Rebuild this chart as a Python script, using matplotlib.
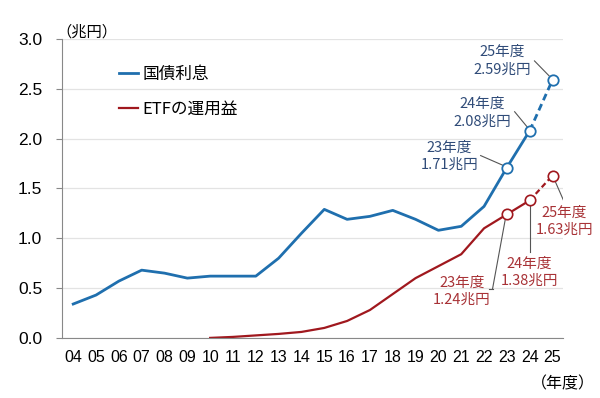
import numpy as np
import matplotlib.pyplot as plt

plt.rcParams['font.family'] = ['Noto Sans CJK JP', 'DejaVu Sans']

years = ['04', '05', '06', '07', '08', '09', '10', '11', '12', '13', '14',
         '15', '16', '17', '18', '19', '20', '21', '22', '23', '24', '25']
jgb = [0.34, 0.43, 0.57, 0.68, 0.65, 0.60, 0.62, 0.62, 0.62, 0.80, 1.05,
       1.29, 1.19, 1.22, 1.28, 1.19, 1.08, 1.12, 1.32, 1.71, 2.08, 2.59]
etf_years = years[6:]
etf = [0.00, 0.01, 0.025, 0.04, 0.06, 0.10, 0.17, 0.28, 0.44, 0.60, 0.72,
       0.84, 1.10, 1.24, 1.38, 1.63]

blue_labels = ['23年度\n1.71兆円', '24年度\n2.08兆円', '25年度\n2.59兆円']
red_labels = ['23年度\n1.24兆円', '24年度\n1.38兆円', '25年度\n1.63兆円']

c_blue = '#1f6fae'
c_red = '#a0181e'
c_blue_txt = '#2f4b78'
c_red_txt = '#a83236'
c_lead = '#555555'

x = np.arange(len(years))
xe = np.arange(6, len(years))

fig, ax = plt.subplots()
fig.set_size_inches(6.0, 3.98)
fig.subplots_adjust(left=0.103, right=0.938, bottom=0.151, top=0.902)

lw = 2.0
ax.plot(x[:21], jgb[:21], c=c_blue, lw=lw, label='国債利息')
ax.plot(x[20:], jgb[20:], c=c_blue, lw=lw, ls=(0, (2.5, 1.5)))
ax.plot(xe[:15], etf[:15], c=c_red, lw=1.6, label='ETFの運用益')
ax.plot(xe[14:], etf[14:], c=c_red, lw=1.6, ls=(0, (2.5, 1.5)))

ax.plot(x[19:], jgb[19:], ls='none', marker='o', ms=7.5, mfc='white',
        mec=c_blue, mew=1.3, zorder=5)
ax.plot(xe[13:], etf[13:], ls='none', marker='o', ms=7.5, mfc='white',
        mec=c_red, mew=1.2, zorder=5)

fs_ann = 10.5
# blue annotations
bpos = [(16.49, 1.82), (17.94, 2.26), (18.81, 2.78)]
for i, (tx, ty) in enumerate(bpos):
    ax.text(tx, ty, blue_labels[i], ha='center', va='center', fontsize=fs_ann,
            color=c_blue_txt, linespacing=1.3)
ax.plot([17.85, 18.85], [1.83, 1.73], c=c_lead, lw=0.8)
ax.plot([19.34, 19.88], [2.27, 2.12], c=c_lead, lw=0.8)
ax.plot([20.21, 20.85], [2.78, 2.63], c=c_lead, lw=0.8)

# red annotations
rpos = [(17.02, 0.47), (19.99, 0.66), (21.52, 1.17)]
for i, (tx, ty) in enumerate(rpos):
    ax.text(tx, ty, red_labels[i], ha='center', va='center', fontsize=fs_ann,
            color=c_red_txt, linespacing=1.3)
ax.plot([18.37, 18.93], [0.49, 1.19], c=c_lead, lw=0.8)
ax.plot([18.22, 18.37], [0.49, 0.49], c=c_lead, lw=0.8)
ax.plot([20.0, 20.0], [0.86, 1.33], c=c_lead, lw=0.8)
ax.plot([21.1, 21.52], [1.58, 1.36], c=c_lead, lw=0.8)

ax.set_xlim(-0.5, 21.45)
ax.set_ylim(0, 3.0)
ax.set_yticks(np.arange(0, 3.01, 0.5))
ax.set_yticklabels(['%.1f' % v for v in np.arange(0, 3.01, 0.5)],
                   fontsize=12.5, family=['Liberation Sans'])
ax.set_xticks(x)
ax.set_xticklabels(years, fontsize=11.5, family=['Liberation Sans'])
ax.tick_params(axis='x', length=0, pad=9)
ax.tick_params(axis='y', length=4, color='#888888', pad=10)
ax.grid(axis='y', color='#e3e3e3', lw=0.9)
ax.set_axisbelow(True)
for s in ['top', 'right']:
    ax.spines[s].set_visible(False)
ax.spines['left'].set_color('#888888')
ax.spines['bottom'].set_color('#888888')

ax.text(-0.01, 1.025, '（兆円）', transform=ax.transAxes, fontsize=11,
        ha='left', va='center')
ax.text(1.065, -0.125, '（年度）', transform=ax.transAxes, fontsize=11.5,
        ha='right', va='top')

ax.legend(loc='upper left', bbox_to_anchor=(0.085, 0.96), frameon=False,
          fontsize=12, handlelength=1.1, handletextpad=0.3,
          labelspacing=1.05)

fig.savefig('out.png', dpi=100)
